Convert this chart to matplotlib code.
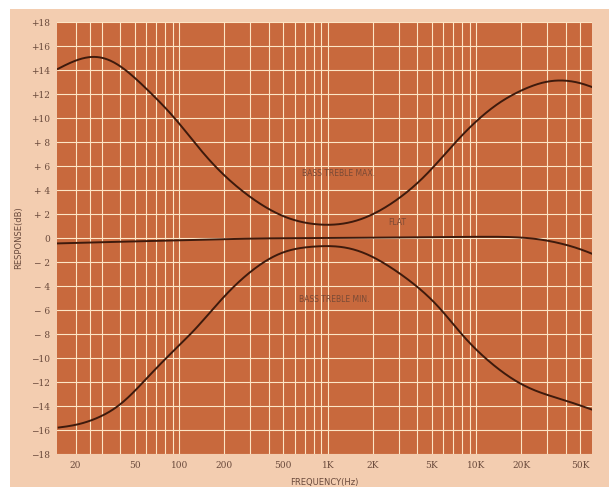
import matplotlib
matplotlib.use("Agg")
import matplotlib.pyplot as plt
from matplotlib.patches import Rectangle
import numpy as np

# values (frequency in Hz, response in dB)
max_freq = [15.2, 24, 30, 42, 64, 92, 139, 200, 303, 506, 856, 1170, 1860, 3100,
            4230, 5770, 7870, 10700, 14600, 19900, 30200, 41200, 50500, 60000]
max_db = [14.1, 15.15, 15.15, 14.2, 12.1, 10.1, 7.3, 5.2, 3.35, 1.75, 1.1, 1.1, 1.75, 3.4,
          4.8, 6.6, 8.5, 10.1, 11.4, 12.3, 13.1, 13.15, 12.95, 12.6]

flat_freq = [15.2, 30, 100, 300, 1000, 3000, 10000, 15000, 20000, 30000, 40000, 50000, 60000]
flat_db = [-0.45, -0.35, -0.2, -0.05, 0.0, 0.05, 0.1, 0.1, 0.05, -0.2, -0.55, -0.9, -1.3]

min_freq = [15.4, 22.7, 29.6, 40.5, 52.5, 64.5, 87.7, 120, 190, 303, 508, 805, 1100, 1670,
            2780, 4430, 5770, 7870, 10700, 14600, 19900, 30200, 41200, 60000]
min_db = [-15.8, -15.45, -14.9, -13.9, -12.5, -11.3, -9.6, -8.0, -5.15, -2.75, -1.1, -0.7,
          -0.65, -1.1, -2.6, -4.5, -5.9, -8.0, -9.7, -11.1, -12.2, -13.1, -13.6, -14.3]

x_ticks = [20, 50, 100, 200, 500, 1000, 2000, 5000, 10000, 20000, 50000]
x_labels = ["20", "50", "100", "200", "500", "1K", "2K", "5K", "10K", "20K", "50K"]
grid_freqs = [20, 25, 30, 40, 50, 60, 70, 80, 90, 100, 200, 300, 400, 500, 600, 700, 800, 900,
              1000, 2000, 3000, 4000, 5000, 6000, 7000, 8000, 9000, 10000, 20000, 30000, 40000,
              50000]
y_ticks = list(range(-18, 19, 2))


def db_label(v):
	if v == 0:
		return "0"
	sign = "+" if v > 0 else "\u2212"
	if abs(v) < 10:
		return sign + " " + str(abs(v))
	return sign + str(abs(v))


def spline(fx, fy, n=600, sigma=0.07):
	# natural cubic spline through the read points in log frequency,
	# then a light gaussian blur so the hand-read points don't show as kinks
	x = np.log10(np.asarray(fx, float))
	y = np.asarray(fy, float)
	k = len(x)
	h = np.diff(x)
	A = np.zeros((k, k))
	b = np.zeros(k)
	A[0, 0] = A[-1, -1] = 1
	for i in range(1, k - 1):
		A[i, i - 1] = h[i - 1]
		A[i, i] = 2 * (h[i - 1] + h[i])
		A[i, i + 1] = h[i]
		b[i] = 6 * ((y[i + 1] - y[i]) / h[i] - (y[i] - y[i - 1]) / h[i - 1])
	M = np.linalg.solve(A, b)
	xs = np.linspace(x[0], x[-1], n)
	j = np.clip(np.searchsorted(x, xs) - 1, 0, k - 2)
	a = (x[j + 1] - xs) / h[j]
	c = (xs - x[j]) / h[j]
	ys = (a * y[j] + c * y[j + 1]
	      + ((a**3 - a) * M[j] + (c**3 - c) * M[j + 1]) * h[j]**2 / 6)
	dx = xs[1] - xs[0]
	r = int(3 * sigma / dx)
	kern = np.exp(-0.5 * (np.arange(-r, r + 1) * dx / sigma) ** 2)
	kern /= kern.sum()
	# pad by linear extension so the ends keep their value and slope
	sl0 = (ys[1] - ys[0])
	sl1 = (ys[-1] - ys[-2])
	left = ys[0] - sl0 * np.arange(r, 0, -1)
	right = ys[-1] + sl1 * np.arange(1, r + 1)
	ys = np.convolve(np.concatenate([left, ys, right]), kern, mode="valid")
	return 10 ** xs, ys


fig = plt.figure(figsize=(6.09, 4.87), dpi=100)
fig.patch.set_facecolor("white")
fig.patches.append(Rectangle((10 / 609, 0), 1, 1 - 9 / 487, transform=fig.transFigure,
                             facecolor="#f3cdb0", edgecolor="none", zorder=-1))

ax = fig.add_axes([57 / 609, 1 - 454 / 487, (592 - 57) / 609, (454 - 22) / 487])
ax.set_facecolor("#c8693d")
ax.set_xscale("log")
ax.set_xlim(15, 60000)
ax.set_ylim(-18, 18)

for f in grid_freqs:
	ax.axvline(f, color="#fde6c6", lw=0.8, zorder=1)
for v in y_ticks:
	ax.axhline(v, color="#fde6c6", lw=0.8, zorder=1)

curve_col = "#3e1a0c"
for fx, fy in [(max_freq, max_db), (flat_freq, flat_db), (min_freq, min_db)]:
	sx, sy = spline(fx, fy)
	ax.plot(sx, sy, color=curve_col, lw=1.4, zorder=3)

text_col = "#7a4a36"
ax.text(1170, 5.4, "BASS TREBLE MAX.", color=text_col, fontsize=5.5, ha="center", va="center")
ax.text(2950, 1.3, "FLAT", color=text_col, fontsize=5.5, ha="center", va="center")
ax.text(1100, -5.1, "BASS TREBLE MIN.", color=text_col, fontsize=5.5, ha="center", va="center")

ax.set_xticks(x_ticks)
ax.set_xticklabels(x_labels)
ax.xaxis.set_minor_locator(matplotlib.ticker.NullLocator())
ax.set_yticks(y_ticks)
ax.set_yticklabels([db_label(v) for v in y_ticks])
ax.tick_params(length=0, labelsize=6.5, colors="#6a4a3c", pad=5)
for lab in ax.get_xticklabels() + ax.get_yticklabels():
	lab.set_family("DejaVu Serif")
for s in ax.spines.values():
	s.set_visible(False)

ax.set_xlabel("FREQUENCY(Hz)", fontsize=6, color="#6a4a3c", labelpad=6)
ax.set_ylabel("RESPONSE(dB)", fontsize=6, color="#6a4a3c", labelpad=6)

fig.savefig("out.png", dpi=100)
